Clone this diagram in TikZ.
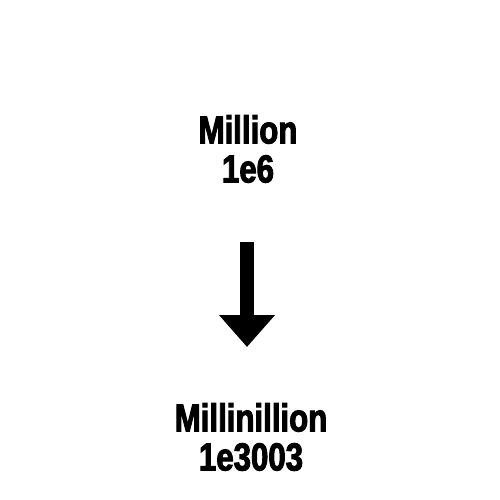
\documentclass[tikz,border=0pt]{standalone}
\usepackage{fontspec}
\setmainfont{Liberation Sans}[FakeStretch=0.8,BoldFeatures={FakeBold=2.5}]
\usetikzlibrary{arrows.meta}

\tikzset{
    numlabel/.style={align=center, font=\fontsize{39}{39}\selectfont\bfseries, inner sep=0pt},
    bigarrow/.style={line width=14pt, -{Triangle[width=54pt, length=32pt]}}
}

\begin{document}
\begin{tikzpicture}[x=1pt, y=-1pt]
        \useasboundingbox (0,0) rectangle (500,500);
        \node[numlabel] (million) at (248,149) {Million\\1e6};
        \node[numlabel] (millinillion) at (251,437) {Millinillion\\1e3003};

        \coordinate (arrtop) at (247,242);
        \coordinate (arrtip) at (247,347);

        \draw[bigarrow] (arrtop) -- (arrtip);
    \end{tikzpicture}
\end{document}
